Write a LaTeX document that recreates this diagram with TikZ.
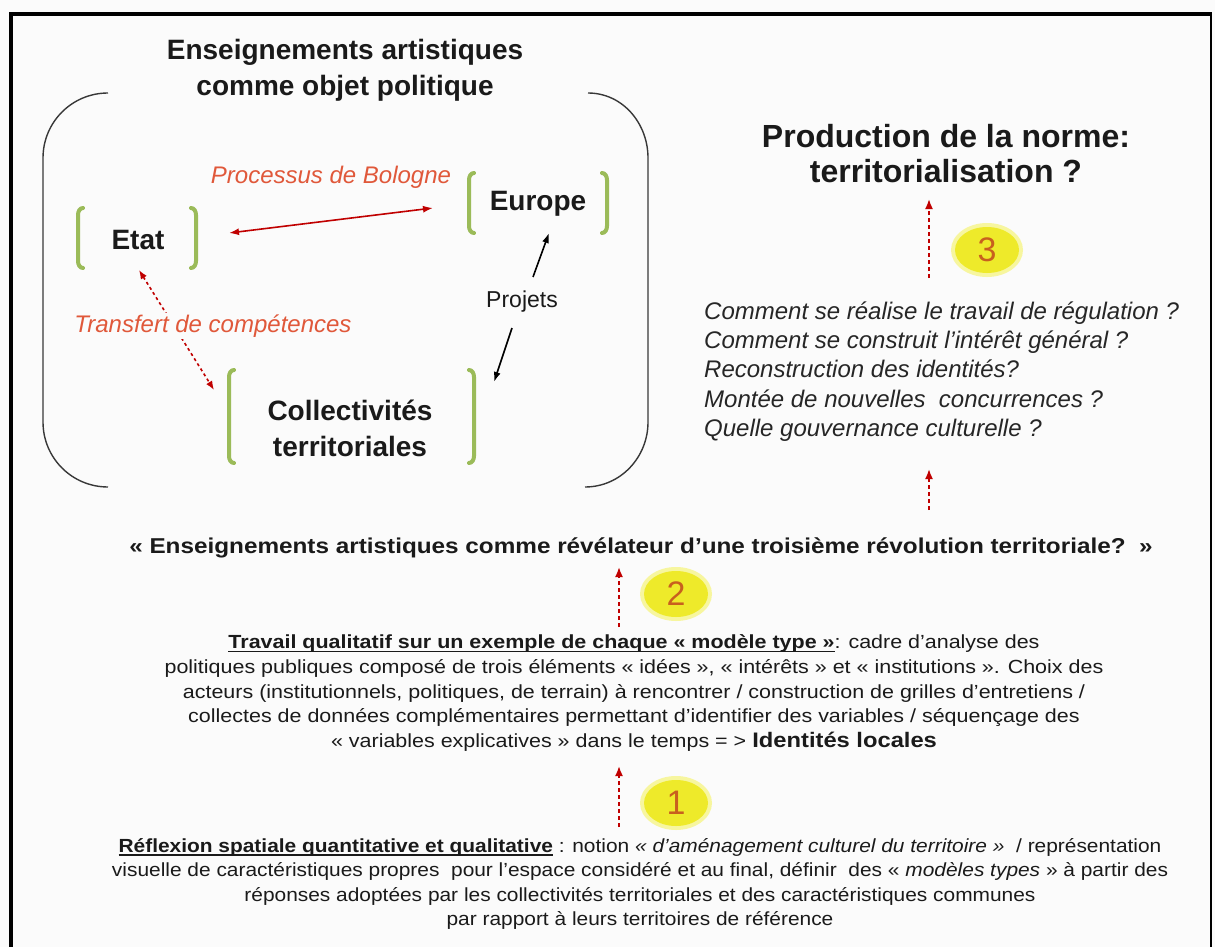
\documentclass[tikz,border=0pt]{standalone}
\usepackage{fontspec}
\setmainfont{Liberation Sans}
\newfontfamily\wideA[FakeStretch=1.13]{Liberation Sans}
\newfontfamily\wideB[FakeStretch=1.10]{Liberation Sans}
\usetikzlibrary{arrows.meta,shapes.geometric}
\newsavebox\myulbox
\newcommand\myul[1]{\sbox\myulbox{#1}\rlap{\rule[-3pt]{\wd\myulbox}{1.3pt}}\usebox\myulbox}
\definecolor{bg}{HTML}{FBFBFB}
\definecolor{grn}{HTML}{9BBB59}
\definecolor{arrred}{HTML}{C00000}
\definecolor{lblred}{HTML}{E0583A}
\definecolor{numcol}{HTML}{C8601E}
\definecolor{ylw}{HTML}{EEEA2A}
\definecolor{txt}{HTML}{1A1A1A}
\tikzset{
  gbr/.style={draw=grn, line width=4pt, line cap=round},
  bigbr/.style={draw=black!78, line width=1.4pt},
  redsolid/.style={draw=arrred, line width=1.6pt, {Latex[length=10pt,width=7pt]}-{Latex[length=10pt,width=7pt]}},
  reddots/.style={draw=arrred, line width=1.6pt, dash pattern=on 3pt off 3pt, {Latex[length=9pt,width=7pt]}-{Latex[length=9pt,width=7pt]}},
  blkarr/.style={draw=black, line width=1.6pt, -{Latex[length=10pt,width=7pt]}},
  upred/.style={draw=arrred, line width=1.8pt, dash pattern=on 4pt off 3pt, -{Latex[length=10pt,width=8pt]}},
  numdisk/.style={ellipse, minimum width=64pt, minimum height=46pt, fill=ylw, text=numcol, inner sep=0pt,
    font=\fontsize{34}{36}\selectfont},
  halo/.style={fill=ylw!45, draw=none},
  boldbig/.style={text=txt, inner sep=0pt, align=center, font=\bfseries\fontsize{28}{36}\selectfont},
  redlbl/.style={text=lblred, inner sep=0pt, font=\itshape\fontsize{24}{28}\selectfont},
  para/.style={text=txt, inner sep=0pt, align=center},
}
\begin{document}
\begin{tikzpicture}[x=1pt,y=-1pt]
\useasboundingbox (0,0) rectangle (1215,947);
\fill[bg] (0,0) rectangle (1215,947);
% frame
\draw[line width=4pt] (11,947) -- (11,14) -- (1212,14);
\draw[line width=2.5pt] (1211,13) -- (1211,947);

% left group
\node[boldbig] (ttl) at (345,70) {Enseignements artistiques\\comme objet politique};
\draw[bigbr] (108,93) to[out=180,in=90] (43,158) -- (43,422) to[out=-90,in=180] (108,487);
\draw[bigbr] (588,93) to[out=0,in=90] (648,158) -- (648,422) to[out=-90,in=0] (585,487);

\node[boldbig] (etat) at (138,240) {Etat};
\node[boldbig] (europe) at (538,204) {Europe};
\node[boldbig] (coll) at (350,428) {Collectivités\\territoriales};

% green brackets
\draw[gbr] (83,208) to[out=180,in=90] (78,215) -- (78,261) to[out=-90,in=180] (83,268);
\draw[gbr] (191,208) to[out=0,in=90] (196,215) -- (196,261) to[out=-90,in=0] (191,268);
\draw[gbr] (474,173) to[out=180,in=90] (469,180) -- (469,226) to[out=-90,in=180] (474,233);
\draw[gbr] (602,173) to[out=0,in=90] (607,180) -- (607,226) to[out=-90,in=0] (602,233);
\draw[gbr] (234,370) to[out=180,in=90] (229,377) -- (229,456) to[out=-90,in=180] (234,463);
\draw[gbr] (469,370) to[out=0,in=90] (474,377) -- (474,456) to[out=-90,in=0] (469,463);

% arrows among actors
\coordinate (etR) at (229,233);
\coordinate (euL) at (433,208);
\draw[redsolid] (etR) -- (euL);
\node[redlbl] (bolo) at (331,177) {Processus de Bologne};

\coordinate (etB) at (139,270);
\coordinate (coL) at (214,390);
\draw[reddots] (etB) -- (coL);
\node[redlbl, fill=bg, inner sep=2pt] (transf) at (213,326) {Transfert de compétences};

\node[text=txt, inner sep=0pt, font=\fontsize{23}{26}\selectfont] (projets) at (522,302) {Projets};
\coordinate (euB) at (549,233);
\coordinate (coR) at (494,382);
\coordinate (pjT) at (533,277);
\coordinate (pjB) at (512,328);
\draw[blkarr] (pjT) -- (euB);
\draw[blkarr] (pjB) -- (coR);

% right group
\node[boldbig, font=\bfseries\fontsize{32}{35}\selectfont] (prod) at (946,154) {Production de la norme:\\territorialisation ?};
\node[text=black!85, inner sep=0pt, align=left, anchor=west, font=\itshape\fontsize{24}{29.2}\selectfont] (q) at (704,371.5)
  {Comment se réalise le travail de régulation ?\\Comment se construit l’intérêt général ?\\Reconstruction des identités?\\Montée de nouvelles\ \ concurrences ?\\Quelle gouvernance culturelle ?};
\coordinate (a3s) at (929,278);
\coordinate (a3e) at (929,199);
\draw[upred] (a3s) -- (a3e);
\fill[halo] (987,250) ellipse (36pt and 27pt);
\node[numdisk] (n3) at (987,250) {3};
\coordinate (a4s) at (929,510);
\coordinate (a4e) at (929,469);
\draw[upred] (a4s) -- (a4e);

% middle
\node[text=txt, inner sep=0pt, font=\wideA\bfseries\fontsize{21.5}{26}\selectfont] (rev) at (641,548)
  {« Enseignements artistiques comme révélateur d’une troisième révolution territoriale?\ \ »};
\coordinate (a2s) at (619,627);
\coordinate (a2e) at (619,567);
\draw[upred] (a2s) -- (a2e);
\fill[halo] (676,594) ellipse (36pt and 27pt);
\node[numdisk] (n2) at (676,594) {2};

\node[para, font=\wideA\fontsize{19}{24.6}\selectfont] (trav) at (634,693)
  {\myul{\textbf{Travail qualitatif sur un exemple de chaque « modèle type »}}: cadre d’analyse des\\
   politiques publiques composé de trois éléments « idées », « intérêts » et « institutions ». Choix des\\
   acteurs (institutionnels, politiques, de terrain) à rencontrer / construction de grilles d’entretiens /\\
   collectes de données complémentaires permettant d’identifier des variables / séquençage des\\
   « variables explicatives » dans le temps = > {\bfseries\fontsize{21}{24}\selectfont Identités locales}};

\coordinate (a1s) at (619,827);
\coordinate (a1e) at (619,766);
\draw[upred] (a1s) -- (a1e);
\fill[halo] (676,803) ellipse (36pt and 27pt);
\node[numdisk] (n1) at (676,803) {1};

\node[para, font=\wideB\fontsize{19}{24.2}\selectfont] (refl) at (640,884)
  {\myul{\textbf{Réflexion spatiale quantitative et qualitative}} : notion \textit{« d’aménagement culturel du territoire »}\ \ / représentation\\
   visuelle de caractéristiques propres\ \ pour l’espace considéré et au final, définir\ \ des « \textit{modèles types} » à partir des\\
   réponses adoptées par les collectivités territoriales et des caractéristiques communes\\
   par rapport à leurs territoires de référence};
\end{tikzpicture}
\end{document}
